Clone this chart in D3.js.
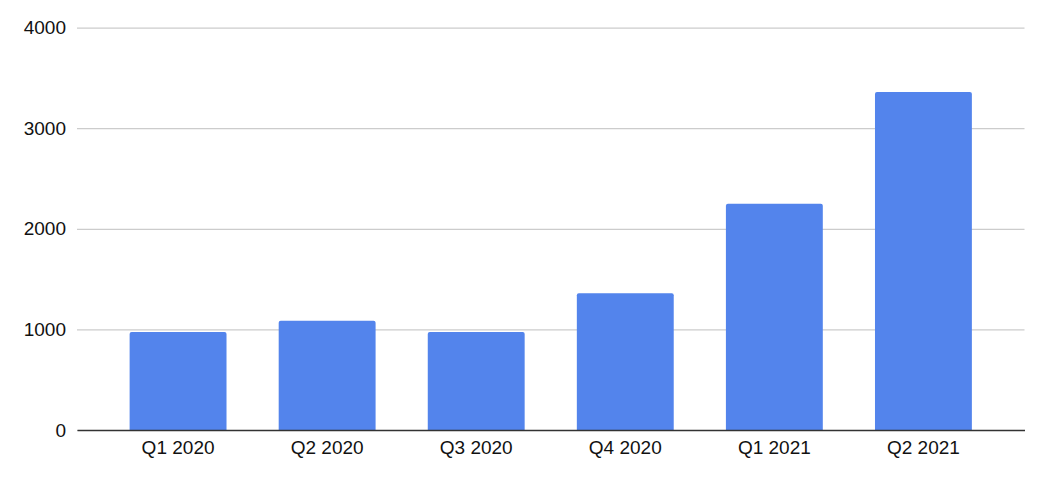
<!DOCTYPE html>
<html>
<head>
<meta charset="utf-8">
<script src="https://cdn.jsdelivr.net/npm/d3@7"></script>
<style>
  body { margin: 0; background: #fff; }
  svg { display: block; font-family: "Liberation Sans", Arial, sans-serif; }
</style>
</head>
<body>
<div id="chart"></div>
<script>
// quarters and values
const quarters = ['Q1 2020', 'Q2 2020', 'Q3 2020', 'Q4 2020', 'Q1 2021', 'Q2 2021'];
const values = [974, 1086, 974, 1359, 2250, 3360];
const yTicks = [0, 1000, 2000, 3000, 4000];

const width = 1054;
const height = 484;
const margin = { top: 27.6, right: 29.5, bottom: 54, left: 77 };

const svg = d3.select('#chart')
  .append('svg')
  .attr('width', width)
  .attr('height', height);

const x = d3.scaleBand()
  .domain(quarters)
  .range([margin.left, width - margin.right])
  .paddingInner(0.35)
  .paddingOuter(0.353);

const y = d3.scaleLinear()
  .domain([0, 4000])
  .range([height - margin.bottom, margin.top]);

// gridlines + y labels
const yAxis = svg.append('g')
  .attr('transform', `translate(${margin.left},0)`)
  .call(d3.axisLeft(y)
    .tickValues(yTicks)
    .tickSize(-(width - margin.left - margin.right))
    .tickPadding(11)
    .tickFormat(d3.format('d')));
yAxis.select('.domain').remove();
yAxis.selectAll('.tick line')
  .attr('stroke', '#cccccc')
  .attr('stroke-width', 1.2);
yAxis.selectAll('.tick text')
  .attr('fill', '#111')
  .style('font-size', '19px');

// bars with slightly rounded tops
const r = 2;
svg.append('g')
  .selectAll('path')
  .data(values)
  .join('path')
  .attr('fill', '#5384ec')
  .attr('d', (d, i) => {
    const x0 = x(quarters[i]);
    const x1 = x0 + x.bandwidth();
    const y0 = y(0);
    const y1 = y(d);
    return `M${x0},${y0}V${y1 + r}Q${x0},${y1} ${x0 + r},${y1}H${x1 - r}Q${x1},${y1} ${x1},${y1 + r}V${y0}Z`;
  });

// x axis
const xAxis = svg.append('g')
  .attr('transform', `translate(0,${y(0)})`)
  .call(d3.axisBottom(x).tickSize(0).tickPadding(11));
xAxis.select('.domain')
  .attr('stroke', '#333')
  .attr('stroke-width', 1.5);
xAxis.selectAll('.tick text')
  .attr('fill', '#111')
  .style('font-size', '19px');
</script>
</body>
</html>
